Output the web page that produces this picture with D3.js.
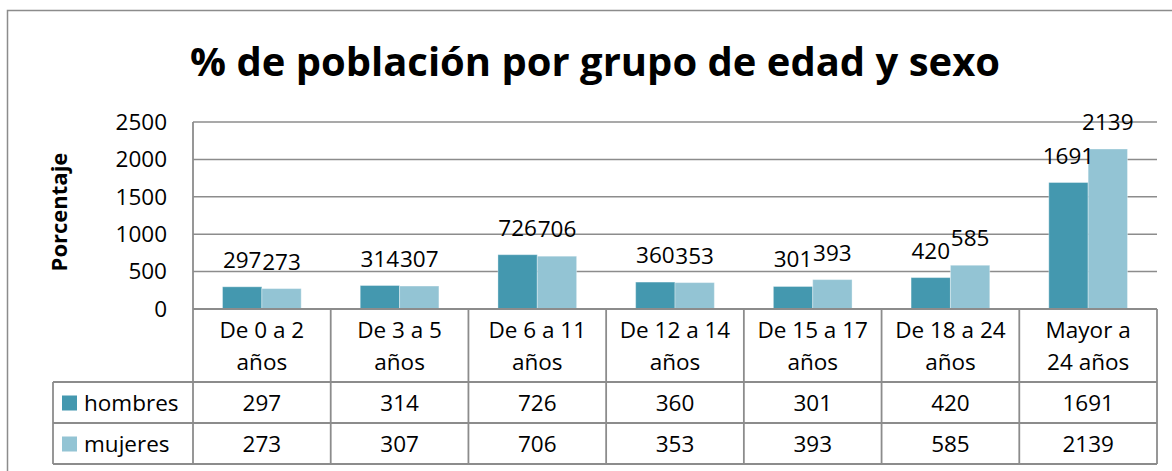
<!DOCTYPE html>
<html>
<head>
<meta charset="utf-8">
<script src="https://cdn.jsdelivr.net/npm/d3@7"></script>
<style>
  html, body { margin: 0; padding: 0; background: #fff; }
  svg { display: block; }
  text { font-family: "Open Sans", "Noto Sans", sans-serif; fill: #000; }
</style>
</head>
<body>
<script>
const categories = [
  ["De 0 a 2", "años"],
  ["De 3 a 5", "años"],
  ["De 6 a 11", "años"],
  ["De 12 a 14", "años"],
  ["De 15 a 17", "años"],
  ["De 18 a 24", "años"],
  ["Mayor a", "24 años"]
];
const seriesNames = ["hombres", "mujeres"];
const hombres = [297, 314, 726, 360, 301, 420, 1691];
const mujeres = [273, 307, 706, 353, 393, 585, 2139];
const yTicks = [0, 500, 1000, 1500, 2000, 2500];
const title = "% de población por grupo de edad y sexo";
const yTitle = "Porcentaje";
const colors = ["#4498AF", "#93C4D4"];

const W = 1172, H = 471;
const plot = { left: 193, right: 1157, top: 122, bottom: 309 };
const rows = { header: 382, r1: 423, r2: 464, legendLeft: 53 };
const gridColor = "#8c8c8c";

const svg = d3.select("body").append("svg").attr("width", W).attr("height", H);

// outer chart border (extends beyond the canvas on right/bottom)
svg.append("rect").attr("x", 7.5).attr("y", 10.5).attr("width", W + 20).attr("height", H + 20)
  .attr("fill", "none").attr("stroke", gridColor).attr("stroke-width", 1.5);

// title
svg.append("text").attr("x", 595).attr("y", 76).attr("text-anchor", "middle")
  .attr("font-size", 39).attr("font-weight", "bold")
  .attr("textLength", 810).attr("lengthAdjust", "spacingAndGlyphs")
  .text(title);

const catKeys = categories.map((c, i) => i);
const x0 = d3.scaleBand().domain(catKeys).range([plot.left, plot.right]).padding(0);
const x1 = d3.scaleBand().domain(seriesNames).range([0, x0.bandwidth()]).paddingInner(0).paddingOuter(0.75);
const y = d3.scaleLinear().domain([0, 2500]).range([plot.bottom, plot.top]);

// gridlines
svg.append("g").selectAll("line").data(yTicks.filter(t => t > 0)).join("line")
  .attr("x1", plot.left).attr("x2", plot.right)
  .attr("y1", d => y(d)).attr("y2", d => y(d))
  .attr("stroke", gridColor).attr("stroke-width", 1.5);

// y axis tick labels
const yAxis = d3.axisLeft(y).tickValues(yTicks).tickFormat(d3.format("d")).tickSize(0).tickPadding(26);
const gy = svg.append("g").attr("transform", `translate(${plot.left},0)`).call(yAxis);
gy.select(".domain").remove();
gy.selectAll("text").attr("font-size", 22.5).attr("font-family", '"Open Sans", sans-serif').attr("fill", "#000");

// y title
svg.append("text").attr("transform", "translate(67,212) rotate(-90)")
  .attr("text-anchor", "middle").attr("font-size", 22).attr("font-weight", "bold")
  .text(yTitle);

// bars
const data = catKeys.map(i => ({ i, vals: [
  { s: "hombres", v: hombres[i], c: colors[0] },
  { s: "mujeres", v: mujeres[i], c: colors[1] }
]}));

const groups = svg.append("g").selectAll("g").data(data).join("g")
  .attr("transform", d => `translate(${x0(d.i)},0)`);
groups.selectAll("rect").data(d => d.vals).join("rect")
  .attr("x", d => x1(d.s)).attr("width", x1.bandwidth())
  .attr("y", d => y(d.v)).attr("height", d => y(0) - y(d.v))
  .attr("fill", d => d.c).attr("stroke", "#fff").attr("stroke-opacity", 0.35).attr("stroke-width", 1);
groups.selectAll("text.lbl").data(d => d.vals).join("text").attr("class", "lbl")
  .attr("x", d => x1(d.s) + x1.bandwidth() / 2).attr("y", d => y(d.v) - 19)
  .attr("text-anchor", "middle").attr("font-size", 22.5)
  .text(d => d.v);

// table lines
const tl = svg.append("g").attr("stroke", gridColor).attr("stroke-width", 1.8);
tl.append("line").attr("x1", plot.left).attr("x2", plot.right).attr("y1", y(0)).attr("y2", y(0));
[rows.header, rows.r1, rows.r2].forEach(yy => {
  tl.append("line").attr("x1", rows.legendLeft).attr("x2", plot.right).attr("y1", yy).attr("y2", yy);
});
tl.append("line").attr("x1", plot.left).attr("x2", plot.left).attr("y1", plot.top).attr("y2", rows.r2);
tl.append("line").attr("x1", rows.legendLeft).attr("x2", rows.legendLeft).attr("y1", rows.header).attr("y2", rows.r2);
catKeys.forEach(i => {
  const xx = x0(i) + x0.bandwidth();
  tl.append("line").attr("x1", xx).attr("x2", xx).attr("y1", y(0)).attr("y2", rows.r2);
});

// category labels and table values
const cat = svg.append("g").selectAll("g").data(catKeys).join("g")
  .attr("transform", i => `translate(${x0(i) + x0.bandwidth() / 2},0)`);
cat.append("text").attr("y", 330).attr("dy", "0.35em").attr("text-anchor", "middle").attr("font-size", 22.5)
  .text(i => categories[i][0]);
cat.append("text").attr("y", 362).attr("dy", "0.35em").attr("text-anchor", "middle").attr("font-size", 22.5)
  .text(i => categories[i][1]);
cat.append("text").attr("y", 403).attr("dy", "0.35em").attr("text-anchor", "middle").attr("font-size", 22.5)
  .text(i => hombres[i]);
cat.append("text").attr("y", 444).attr("dy", "0.35em").attr("text-anchor", "middle").attr("font-size", 22.5)
  .text(i => mujeres[i]);

// legend inside table
const legY = [403, 444];
seriesNames.forEach((s, k) => {
  svg.append("rect").attr("x", 62).attr("y", legY[k] - 7.5).attr("width", 15).attr("height", 15).attr("fill", colors[k]);
  svg.append("text").attr("x", 84).attr("y", legY[k]).attr("dy", "0.35em").attr("font-size", 22.5).text(s);
});
</script>
</body>
</html>
